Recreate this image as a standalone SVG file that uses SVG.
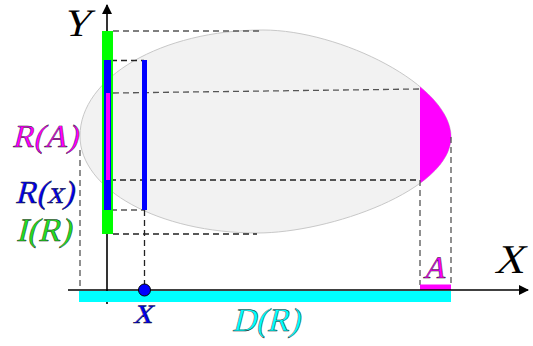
<svg xmlns="http://www.w3.org/2000/svg" width="533" height="346" viewBox="0 0 533 346">
<style>
.dash{fill:none;stroke:#555;stroke-width:1.3;stroke-dasharray:6 4}
.axis{stroke:#000;stroke-width:1.6;fill:none}
.t{font-family:"Liberation Serif","Times New Roman",serif;font-style:normal}
.o{stroke:#1a1a1a;stroke-width:0.45}
</style>
<defs>
<marker id="arr" viewBox="0 0 10 10" refX="9" refY="5" markerWidth="10" markerHeight="10" markerUnits="userSpaceOnUse" orient="auto">
<path d="M0,0 L10,5 L0,10 Z" fill="#000"/>
</marker>
<path id="egg" d="M80,136 C80,77.5 161.9,30 263,30 C340,30 451,85 451,137 C451,190 330,233 257,233 C159.2,233 80,189.6 80,136 Z"/>
<clipPath id="rightpart"><rect x="420" y="0" width="113" height="346"/></clipPath>
</defs>

<g id="region">
<use href="#egg" fill="#f2f2f2" stroke="#c8c8c8" stroke-width="1"/>
<use href="#egg" fill="#ff00ff" clip-path="url(#rightpart)"/>
</g>

<g id="connectors">
<line class="dash" x1="113" y1="31" x2="263" y2="31"/>
<line class="dash" x1="111" y1="60.5" x2="144" y2="60.5" style="stroke:#222"/>
<line class="dash" x1="113" y1="93" x2="420" y2="89"/>
<line class="dash" x1="110" y1="180" x2="420" y2="180" style="stroke:#222"/>
<line class="dash" x1="111" y1="210" x2="144" y2="210"/>
<line class="dash" x1="113" y1="234" x2="257" y2="234" style="stroke:#222"/>
<line class="dash" x1="80" y1="150" x2="80" y2="290"/>
<line class="dash" x1="144.5" y1="210" x2="144.5" y2="286" style="stroke:#222"/>
<line class="dash" x1="420" y1="180" x2="420" y2="285"/>
<line class="dash" x1="451" y1="137" x2="451" y2="285"/>
</g>

<g id="y-axis">
<line class="axis" x1="107" y1="304" x2="107" y2="5" marker-end="url(#arr)"/>
</g>

<g id="range-bars">
<rect x="102" y="31" width="11" height="203" fill="#00ff00"/>
<rect x="104" y="60" width="7" height="150" fill="#0000ff"/>
<rect x="106" y="93" width="4" height="87" fill="#ff00ff"/>
<rect x="142" y="60" width="5" height="150" fill="#0000ff"/>
</g>

<g id="domain">
<rect x="79" y="291" width="372" height="11" fill="#00ffff"/>
<rect x="420" y="284.5" width="31" height="5.5" fill="#ff00ff"/>
</g>

<g id="x-axis">
<line class="axis" x1="68" y1="290" x2="528" y2="290" marker-end="url(#arr)"/>
</g>

<g id="point-x">
<circle cx="144.5" cy="290" r="6" fill="#0000ff" stroke="#000" stroke-width="1"/>
</g>

<g id="labels">
<g transform="translate(62,36) skewX(-14)"><text class="t" font-size="39" fill="#000">Y</text></g>
<g transform="translate(494,273) skewX(-14)"><text class="t" font-size="41" fill="#000">X</text></g>
<g transform="translate(12,147) skewX(-14)"><text class="t o" font-size="32" fill="#ff00ff">R(A)</text></g>
<g transform="translate(15,203) skewX(-14)"><text class="t o" font-size="32" fill="#0000ee">R(x)</text></g>
<g transform="translate(16,241) skewX(-14)"><text class="t o" font-size="33" fill="#22dd22">I(R)</text></g>
<g transform="translate(133,323) skewX(-14)"><text class="t o" font-size="38" fill="#0000ee">x</text></g>
<g transform="translate(232,331) skewX(-14)"><text class="t o" font-size="33" fill="#00ffff">D(R)</text></g>
<g transform="translate(423,278) skewX(-14)"><text class="t o" font-size="31" fill="#ff00ff">A</text></g>
</g>
</svg>
